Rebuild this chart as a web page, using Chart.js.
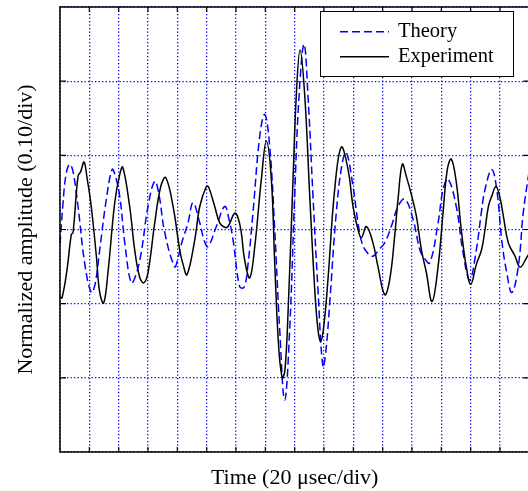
<!DOCTYPE html>
<html>
<head>
<meta charset="utf-8">
<script src="https://cdn.jsdelivr.net/npm/chart.js@4"></script>
<style>
  html, body { margin: 0; padding: 0; background: #fff; overflow: hidden; }
  #wrap { position: relative; width: 530px; height: 491px; }
</style>
</head>
<body>
<div id="wrap"><canvas id="chart"></canvas></div>
<script>
// time in usec (20 usec/div), amplitude normalized (0.10/div)
const expTime = [0, 1.4, 4.8, 7.7, 8.9, 12.3, 14.1, 16.4, 18.4, 21.3, 24.8, 27.1, 29.8, 32.7, 37.3, 40.7,
  42.8, 47.5, 50.9, 54.3, 57.1, 60.0, 64.6, 68.7, 72.1, 77.1, 81.6, 83.9, 86.6, 91.9, 95.3, 99.8,
  101.4, 105.5, 108.9, 112.3, 114.6, 119.1, 121.4, 123.6, 125.9, 129.4, 132.8, 137.3, 140.7, 144.1,
  146.4, 149.1, 151.6, 153.4, 155.5, 158.9, 161.1, 163.7, 166.9, 170.3, 173.7, 175.9, 177.8, 180.0,
  182.7, 187.3, 191.8, 196.4, 199.8, 202.7, 205.5, 208.9, 213.4, 216.8, 221.4, 224.8, 228.2, 230.5,
  233.4, 236.1, 239.6, 243.0, 246.4, 249.8, 253.7, 257.8, 261.2, 264.1, 266.8, 270.2, 273.6, 277.0,
  280.1, 283.9, 287.5, 289.8, 292.1, 294.4, 297.3, 300.0, 302.3, 305.7, 310.3, 313.7, 318.2, 320];
const expAmp = [-0.091, -0.092, -0.054, -0.007, -0.004, 0.072, 0.078, 0.091, 0.070, 0.031, -0.036, -0.085, -0.099, -0.058, 0.036, 0.074,
  0.084, 0.031, -0.027, -0.064, -0.072, -0.058, 0.009, 0.058, 0.070, 0.031, -0.027, -0.047, -0.061, -0.014, 0.031, 0.058,
  0.057, 0.031, 0.009, 0.003, 0.004, 0.022, 0.016, -0.004, -0.041, -0.065, -0.023, 0.068, 0.119, 0.068,
  -0.045, -0.158, -0.200, -0.189, -0.112, 0.068, 0.180, 0.242, 0.180, 0.045, -0.081, -0.135, -0.151, -0.128,
  -0.068, 0.054, 0.111, 0.081, 0.031, 0.004, -0.011, 0.004, -0.018, -0.050, -0.088, -0.068, -0.009, 0.041,
  0.088, 0.072, 0.047, 0.018, -0.027, -0.058, -0.097, -0.050, 0.023, 0.081, 0.095, 0.064, 0.000, -0.050,
  -0.074, -0.047, -0.027, 0.000, 0.031, 0.045, 0.058, 0.043, 0.018, -0.018, -0.036, -0.051, -0.038, -0.032];

const thTime = [0, 2.0, 4.1, 6.6, 8.9, 12.3, 16.8, 21.3, 23.9, 27.1, 31.6, 35.5, 37.5, 40.7, 44.3, 48.6,
  51.8, 55.4, 60.0, 64.6, 67.5, 71.4, 78.2, 80.5, 82.7, 87.3, 90.7, 95.3, 98.2, 100.9, 106.6, 112.3,
  115.2, 118.0, 122.5, 125.5, 128.2, 131.6, 136.2, 139.6, 143.0, 146.4, 149.8, 153.2, 156.6, 160.0,
  163.0, 166.4, 169.1, 172.5, 175.9, 179.3, 181.4, 183.9, 188.4, 192.3, 195.2, 199.8, 203.2, 205.9,
  209.4, 213.4, 217.5, 221.4, 225.9, 230.5, 235.1, 240.7, 245.3, 248.2, 252.1, 257.8, 261.2, 264.6,
  270.2, 274.8, 279.4, 283.9, 287.3, 289.8, 294.4, 297.8, 301.2, 304.6, 308.1, 312.5, 315.9, 320];
const thAmp = [-0.020, 0.034, 0.074, 0.088, 0.078, 0.031, -0.045, -0.085, -0.074, -0.027, 0.041, 0.081, 0.074, 0.045, -0.020, -0.072,
  -0.061, -0.031, 0.031, 0.065, 0.047, -0.004, -0.050, -0.038, -0.020, 0.009, 0.036, 0.009, -0.014, -0.023, 0.004, 0.031,
  0.014, -0.014, -0.077, -0.078, -0.047, 0.023, 0.126, 0.155, 0.112, 0.000, -0.135, -0.230, -0.135, 0.045,
  0.180, 0.250, 0.180, 0.045, -0.081, -0.185, -0.162, -0.099, 0.023, 0.088, 0.104, 0.058, 0.009, -0.018,
  -0.031, -0.036, -0.027, -0.018, 0.004, 0.031, 0.041, 0.014, -0.027, -0.038, -0.045, 0.009, 0.054, 0.068,
  0.031, -0.031, -0.068, -0.027, 0.023, 0.054, 0.081, 0.054, -0.014, -0.058, -0.085, -0.050, 0.023, 0.080];

const seriesNames = ["Theory", "Experiment"];
const xTicks = [20, 40, 60, 80, 100, 120, 140, 160, 180, 200, 220, 240, 260, 280, 300];
const yTicks = [-0.2, -0.1, 0, 0.1, 0.2];

const SERIF = '"Liberation Serif", "Times New Roman", serif';

function toPoints(xs, ys) {
  return xs.map((x, i) => ({ x, y: ys[i] }));
}

// frame, inward tick marks and the boxed legend
const framePlugin = {
  id: "frame",
  afterDraw(chart) {
    const { ctx, chartArea: a, scales } = chart;
    ctx.save();
    ctx.strokeStyle = "#000";
    ctx.lineWidth = 1.5;
    ctx.setLineDash([]);
    ctx.strokeRect(a.left, a.top, a.right - a.left, a.bottom - a.top);

    ctx.lineWidth = 1.2;
    ctx.beginPath();
    for (const v of xTicks) {
      const px = scales.x.getPixelForValue(v);
      ctx.moveTo(px, a.bottom);
      ctx.lineTo(px, a.bottom - 5);
      ctx.moveTo(px, a.top);
      ctx.lineTo(px, a.top + 5);
    }
    for (const v of yTicks) {
      const py = scales.y.getPixelForValue(v);
      ctx.moveTo(a.left, py);
      ctx.lineTo(a.left + 6, py);
      ctx.moveTo(a.right, py);
      ctx.lineTo(a.right - 6, py);
    }
    ctx.stroke();

    // legend box
    const bx = 320.5, by = 11.5, bw = 193, bh = 65;
    ctx.fillStyle = "#fff";
    ctx.fillRect(bx, by, bw, bh);
    ctx.lineWidth = 1;
    ctx.strokeRect(bx, by, bw, bh);

    const rows = [31.7, 56.7];
    chart.data.datasets.forEach((ds, i) => {
      const y = rows[i];
      ctx.strokeStyle = ds.borderColor;
      ctx.lineWidth = ds.borderWidth;
      ctx.setLineDash(ds.borderDash || []);
      ctx.beginPath();
      ctx.moveTo(340, y);
      ctx.lineTo(389, y);
      ctx.stroke();
      ctx.setLineDash([]);
      ctx.fillStyle = "#000";
      ctx.font = `20.5px ${SERIF}`;
      ctx.textBaseline = "middle";
      ctx.textAlign = "left";
      ctx.fillText(ds.label, 398, y);
    });
    ctx.restore();
  },
};

new Chart(document.getElementById("chart"), {
  type: "line",
  data: {
    datasets: [
      {
        label: seriesNames[0],
        data: toPoints(thTime, thAmp),
        borderColor: "#0000ff",
        borderWidth: 1.5,
        borderDash: [8, 4],
        pointRadius: 0,
        tension: 0.4,
        order: 1,
      },
      {
        label: seriesNames[1],
        data: toPoints(expTime, expAmp),
        borderColor: "#000000",
        borderWidth: 1.5,
        pointRadius: 0,
        tension: 0.4,
        order: 0,
      },
    ],
  },
  options: {
    responsive: true,
    maintainAspectRatio: false,
    animation: false,
    layout: { padding: { left: 0, top: 7, right: 0.7, bottom: 0 } },
    plugins: {
      legend: { display: false },
      tooltip: { enabled: false },
    },
    scales: {
      x: {
        type: "linear",
        min: 0,
        max: 320,
        ticks: { display: false, stepSize: 20 },
        grid: { color: "#0000ff", lineWidth: 1.3, drawTicks: false },
        border: { display: false, dash: [1.3, 2.2] },
        title: {
          display: true,
          text: "Time (20 μsec/div)",
          color: "#000",
          font: { family: SERIF, size: 22 },
          padding: { top: 12.6, bottom: 0 },
        },
      },
      y: {
        min: -0.3,
        max: 0.3,
        ticks: { display: false, stepSize: 0.1 },
        grid: { color: "#0000ff", lineWidth: 1.3, drawTicks: false },
        border: { display: false, dash: [1.3, 2.2] },
        title: {
          display: true,
          text: "Normalized amplitude (0.10/div)",
          color: "#000",
          font: { family: SERIF, size: 22 },
          padding: { top: 13.5, bottom: 20.1 },
        },
      },
    },
  },
  plugins: [framePlugin],
});
</script>
</body>
</html>
